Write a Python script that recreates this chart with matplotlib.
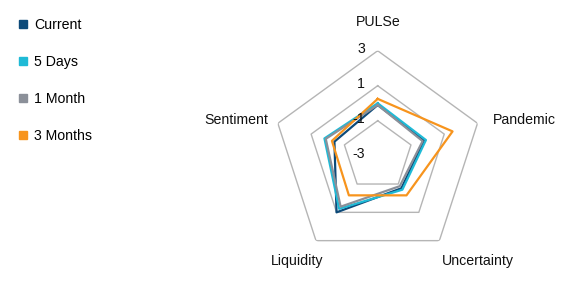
import numpy as np
import matplotlib
matplotlib.use("Agg")
import matplotlib.pyplot as plt
from matplotlib.lines import Line2D

plt.rcParams["font.family"] = ["Liberation Sans", "DejaVu Sans"]

# PULSe radar, values
axes_names = ["PULSe", "Pandemic", "Uncertainty", "Liquidity", "Sentiment"]
series_names = ["Current", "5 Days", "1 Month", "3 Months"]
current = [-0.1, -0.2, -0.7, 1.0, -0.4]
days_5 = [0.0, -0.1, -0.6, 0.75, 0.2]
month_1 = [-0.1, -0.3, -0.85, 0.6, 0.12]
months_3 = [0.25, 1.5, -0.2, -0.2, -0.25]
ring_levels = [3, 1, -1, -3]

colors = ["#0d4a79", "#1fbad6", "#8b9099", "#f7941d"]
grid_color = "#b5b5b5"
r_min, r_max = -3, 3
fs = 10.2

fig = plt.figure(figsize=(5.7, 2.88), dpi=100)
ax = fig.add_axes([0.4784, 0.0948, 0.3684, 0.729], projection="polar")
ax.set_theta_zero_location("N")
ax.set_theta_direction(-1)
ax.set_ylim(r_min, r_max)
ax.axis("off")

n = len(axes_names)
theta = np.linspace(0, 2 * np.pi, n, endpoint=False)
theta_closed = np.append(theta, theta[0])

# pentagon grid (the -3 ring is just the centre)
for lvl in ring_levels[:-1]:
    ax.plot(theta_closed, [lvl] * (n + 1), color=grid_color, lw=1.0, zorder=1)

for lvl in ring_levels:
    ax.annotate(str(lvl), xy=(0, lvl), xytext=(-9, 1), textcoords="offset points",
                ha="right", va="center", fontsize=fs, color="#111111", zorder=5)

for vals, col in zip([current, days_5, month_1, months_3], colors):
    ax.plot(theta_closed, vals + vals[:1], color=col, lw=1.6, zorder=3)

# category labels
label_pos = {
    "PULSe": (378, 22, "center"),
    "Pandemic": (493, 120, "left"),
    "Uncertainty": (478, 261, "center"),
    "Liquidity": (297, 261, "center"),
    "Sentiment": (268, 120, "right"),
}
for name in axes_names:
    x, y, ha = label_pos[name]
    fig.text(x / 570, 1 - y / 288, name, ha=ha, va="center", fontsize=fs, color="#111111")

handles = [Line2D([], [], marker="s", linestyle="none", markersize=6, color=c) for c in colors]
fig.legend(handles, series_names, loc="upper left", bbox_to_anchor=(0.022, 0.957),
           frameon=False, fontsize=fs, labelspacing=1.62, handlelength=0.7,
           handletextpad=0.4, borderaxespad=0)

fig.savefig("out.png", dpi=100)
